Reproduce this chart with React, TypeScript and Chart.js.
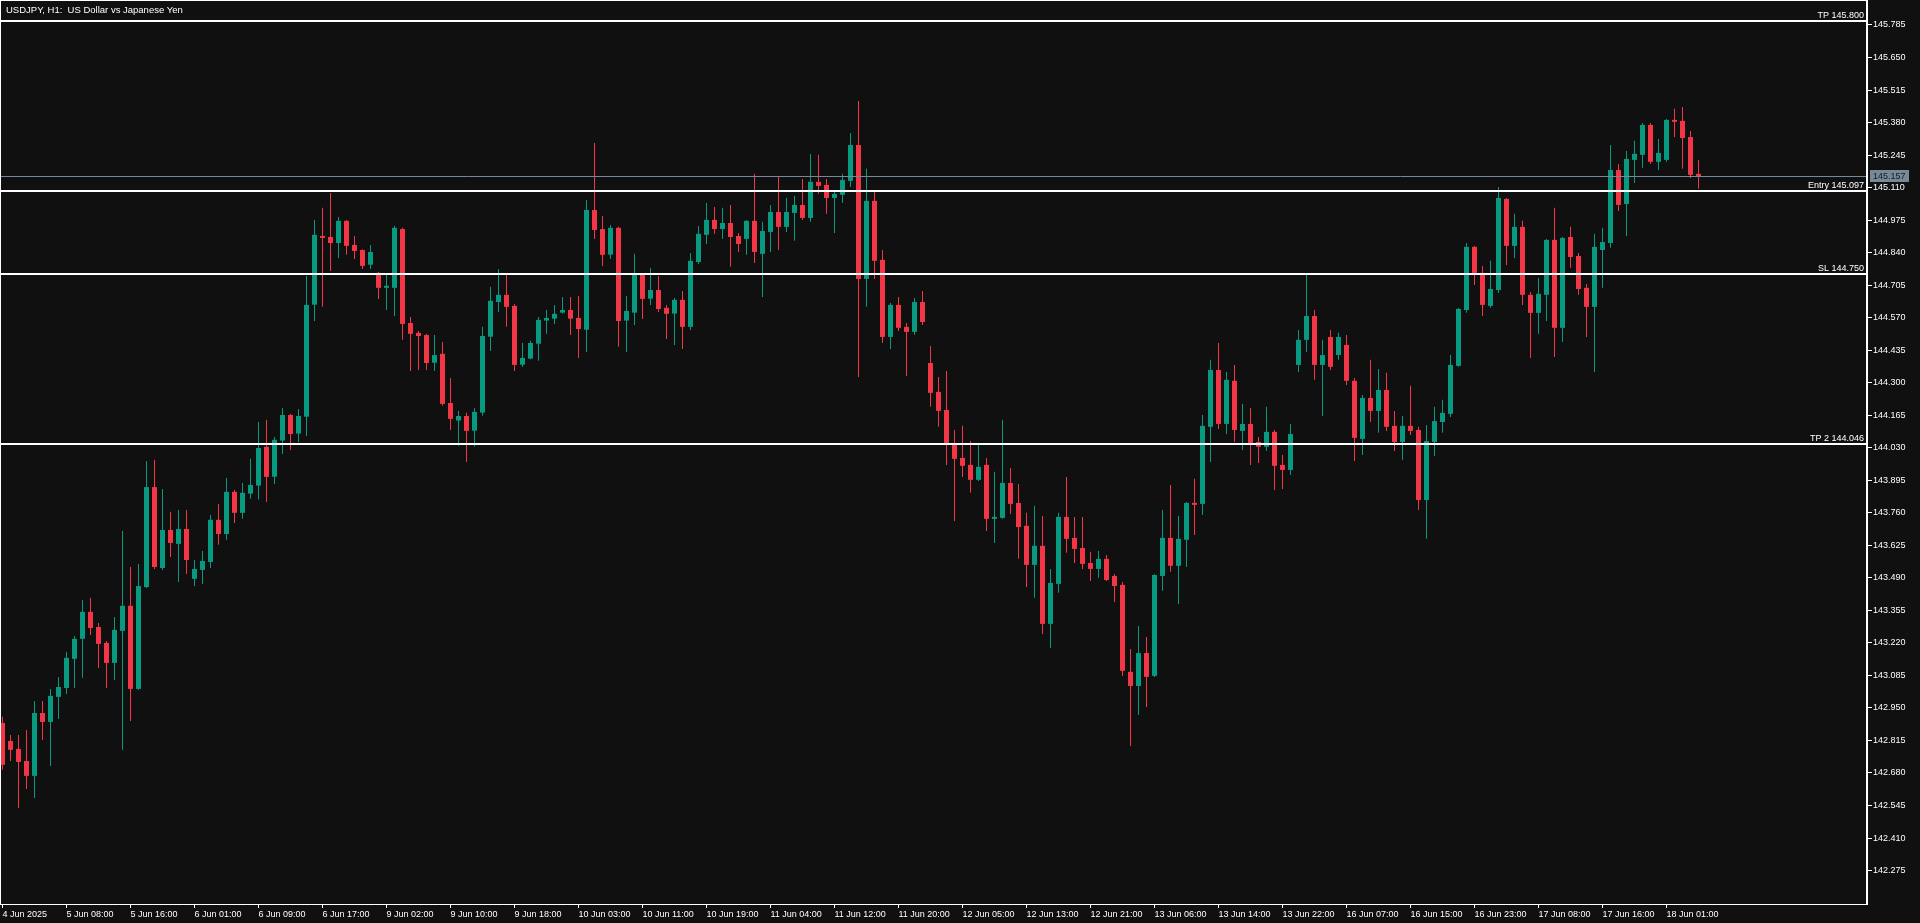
import React, { useEffect, useRef } from 'react';
import { Chart, registerables } from 'chart.js';

Chart.register(...registerables);

const opens = [
  142.888, 142.813, 142.780, 142.730, 142.668, 142.929, 142.892, 142.996, 143.033, 143.154,
  143.237, 143.349, 143.286, 143.220, 143.137, 143.270, 143.374, 143.029, 143.452, 143.867,
  143.531, 143.689, 143.631, 143.693, 143.486, 143.523, 143.556, 143.731, 143.672, 143.847,
  143.760, 143.840, 143.873, 144.034, 143.910, 144.060, 144.166, 144.089, 144.159, 144.624,
  144.909, 144.905, 144.880, 144.972, 144.872, 144.851, 144.790, 144.756, 144.694, 144.694,
  144.938, 144.548, 144.507, 144.498, 144.383, 144.420, 144.216, 144.143, 144.162, 144.101,
  144.176, 144.491, 144.635, 144.665, 144.619, 144.375, 144.400, 144.462, 144.558, 144.566,
  144.591, 144.602, 144.569, 144.520, 145.017, 144.938, 144.832, 144.943, 144.558, 144.591,
  144.752, 144.649, 144.685, 144.611, 144.587, 144.644, 144.532, 144.801, 144.914, 144.976,
  144.938, 144.963, 144.909, 144.897, 144.972, 144.835, 144.926, 145.009, 144.947, 145.005,
  145.038, 144.984, 145.134, 145.121, 145.067, 145.080, 145.138, 145.287, 144.731, 145.055,
  144.810, 144.490, 144.623, 144.532, 144.511, 144.635, 144.382, 144.262, 144.187, 144.050,
  143.988, 143.959, 143.897, 143.959, 143.735, 143.739, 143.884, 143.801, 143.706, 143.544,
  143.623, 143.299, 143.465, 143.743, 143.656, 143.614, 143.552, 143.527, 143.569, 143.498,
  143.461, 143.100, 143.041, 143.178, 143.083, 143.498, 143.656, 143.540, 143.648, 143.801,
  143.797, 144.117, 144.353, 144.129, 144.308, 144.100, 144.129, 144.054, 144.034, 144.096,
  143.959, 143.938, 144.374, 144.478, 144.577, 144.374, 144.490, 144.415, 144.457, 144.308,
  144.067, 144.237, 144.183, 144.270, 144.121, 144.054, 144.121, 144.104, 143.813, 144.054,
  144.137, 144.171, 144.370, 144.602, 144.864, 144.756, 144.619, 144.685, 145.063, 144.868,
  144.947, 144.665, 144.590, 144.665, 144.893, 144.528, 144.905, 144.826, 144.694, 144.615,
  144.851, 144.880, 145.183, 145.042, 145.225, 145.246, 145.370, 145.217, 145.225, 145.387,
  145.387, 145.320, 145.167,
];

const highs = [
  142.913, 142.838, 142.838, 142.859, 142.979, 142.979, 143.029, 143.079, 143.183, 143.249,
  143.398, 143.407, 143.303, 143.228, 143.328, 143.685, 143.535, 143.548, 143.975, 143.980,
  143.859, 143.764, 143.772, 143.772, 143.564, 143.602, 143.751, 143.797, 143.905, 143.855,
  143.884, 143.984, 144.137, 144.146, 144.075, 144.195, 144.170, 144.191, 144.743, 144.976,
  145.026, 145.088, 144.988, 144.975, 144.909, 144.853, 144.872, 144.760, 144.752, 144.951,
  144.943, 144.573, 144.515, 144.503, 144.498, 144.469, 144.320, 144.183, 144.175, 144.195,
  144.532, 144.698, 144.772, 144.748, 144.627, 144.465, 144.474, 144.573, 144.602, 144.623,
  144.656, 144.656, 144.660, 145.059, 145.295, 144.992, 144.955, 144.947, 144.660, 144.835,
  144.755, 144.777, 144.743, 144.623, 144.652, 144.681, 144.839, 144.951, 145.046, 145.030,
  145.026, 145.038, 144.922, 144.975, 145.167, 144.968, 145.038, 145.154, 145.067, 145.075,
  145.146, 145.250, 145.246, 145.146, 145.092, 145.167, 145.337, 145.470, 145.188, 145.092,
  144.851, 144.631, 144.656, 144.548, 144.652, 144.681, 144.453, 144.324, 144.349, 144.104,
  144.121, 144.058, 144.050, 143.988, 143.930, 144.146, 143.946, 143.880, 143.760, 143.789,
  143.747, 143.527, 143.760, 143.909, 143.743, 143.743, 143.598, 143.602, 143.585, 143.506,
  143.473, 143.195, 143.290, 143.245, 143.505, 143.772, 143.876, 143.747, 143.805, 143.901,
  144.166, 144.395, 144.465, 144.345, 144.374, 144.212, 144.195, 144.075, 144.200, 144.104,
  144.000, 144.129, 144.519, 144.748, 144.602, 144.478, 144.519, 144.507, 144.498, 144.320,
  144.249, 144.395, 144.357, 144.341, 144.183, 144.162, 144.287, 144.117, 144.125, 144.200,
  144.229, 144.415, 144.610, 144.880, 144.868, 144.785, 144.806, 145.113, 145.067, 145.001,
  144.972, 144.677, 144.735, 144.897, 145.026, 144.905, 144.947, 144.839, 144.710, 144.918,
  144.943, 145.287, 145.208, 145.262, 145.304, 145.378, 145.378, 145.312, 145.395, 145.437,
  145.445, 145.345, 145.225,
];

const lows = [
  142.693, 142.730, 142.535, 142.614, 142.576, 142.817, 142.709, 142.904, 143.008, 143.033,
  143.075, 143.253, 143.116, 143.033, 143.066, 142.776, 142.896, 143.025, 143.448, 143.527,
  143.523, 143.577, 143.473, 143.506, 143.456, 143.465, 143.531, 143.627, 143.648, 143.718,
  143.735, 143.818, 143.815, 143.805, 143.880, 144.004, 144.021, 144.054, 144.079, 144.556,
  144.615, 144.764, 144.818, 144.831, 144.814, 144.772, 144.772, 144.648, 144.602, 144.577,
  144.478, 144.349, 144.353, 144.353, 144.349, 144.204, 144.104, 144.038, 143.971, 144.035,
  144.163, 144.432, 144.594, 144.532, 144.349, 144.366, 144.397, 144.391, 144.503, 144.544,
  144.586, 144.498, 144.403, 144.428, 144.897, 144.785, 144.814, 144.449, 144.428, 144.540,
  144.565, 144.623, 144.594, 144.482, 144.457, 144.440, 144.519, 144.793, 144.876, 144.918,
  144.897, 144.781, 144.843, 144.831, 144.797, 144.656, 144.843, 144.851, 144.926, 144.889,
  144.976, 144.968, 145.084, 145.001, 144.922, 145.046, 145.113, 144.324, 144.615, 144.731,
  144.465, 144.440, 144.515, 144.328, 144.498, 144.540, 144.200, 144.117, 143.959, 143.726,
  143.909, 143.843, 143.892, 143.685, 143.635, 143.735, 143.755, 143.569, 143.452, 143.407,
  143.257, 143.199, 143.428, 143.594, 143.552, 143.527, 143.477, 143.490, 143.477, 143.390,
  143.083, 142.792, 142.921, 142.954, 143.079, 143.436, 143.515, 143.382, 143.535, 143.668,
  143.751, 143.971, 144.108, 144.087, 144.054, 144.021, 143.959, 143.967, 144.017, 143.855,
  143.859, 143.917, 144.345, 144.428, 144.312, 144.162, 144.353, 144.395, 144.291, 143.975,
  144.000, 144.137, 144.092, 144.100, 144.017, 143.980, 144.083, 143.772, 143.652, 143.996,
  144.092, 144.158, 144.366, 144.590, 144.706, 144.577, 144.611, 144.673, 144.789, 144.818,
  144.623, 144.403, 144.503, 144.556, 144.407, 144.469, 144.777, 144.665, 144.490, 144.345,
  144.694, 144.860, 145.013, 144.909, 145.129, 145.192, 145.208, 145.183, 145.217, 145.320,
  145.188, 145.150, 145.105,
];

const closes = [
  142.714, 142.776, 142.726, 142.668, 142.929, 142.892, 143.000, 143.037, 143.158, 143.237,
  143.349, 143.282, 143.216, 143.137, 143.274, 143.374, 143.029, 143.456, 143.867, 143.535,
  143.689, 143.635, 143.693, 143.564, 143.527, 143.560, 143.731, 143.672, 143.847, 143.760,
  143.843, 143.876, 144.029, 143.909, 144.063, 144.166, 144.087, 144.162, 144.623, 144.914,
  144.901, 144.880, 144.972, 144.868, 144.847, 144.785, 144.843, 144.694, 144.697, 144.943,
  144.544, 144.503, 144.494, 144.382, 144.415, 144.212, 144.150, 144.162, 144.100, 144.179,
  144.494, 144.640, 144.665, 144.615, 144.374, 144.403, 144.465, 144.561, 144.569, 144.586,
  144.602, 144.566, 144.523, 145.017, 144.934, 144.831, 144.943, 144.556, 144.598, 144.752,
  144.648, 144.685, 144.606, 144.586, 144.644, 144.532, 144.806, 144.918, 144.976, 144.938,
  144.963, 144.905, 144.876, 144.972, 144.843, 144.930, 145.009, 144.947, 145.009, 145.038,
  144.984, 145.134, 145.117, 145.067, 145.084, 145.142, 145.287, 144.731, 145.055, 144.806,
  144.490, 144.623, 144.528, 144.511, 144.635, 144.552, 144.258, 144.183, 144.050, 143.984,
  143.955, 143.897, 143.951, 143.735, 143.743, 143.884, 143.797, 143.701, 143.544, 143.623,
  143.299, 143.469, 143.743, 143.652, 143.610, 143.548, 143.527, 143.569, 143.481, 143.456,
  143.104, 143.041, 143.178, 143.079, 143.502, 143.656, 143.540, 143.652, 143.801, 143.793,
  144.121, 144.353, 144.129, 144.312, 144.104, 144.129, 144.050, 144.034, 144.096, 143.955,
  143.938, 144.087, 144.478, 144.577, 144.374, 144.415, 144.366, 144.490, 144.308, 144.071,
  144.237, 144.183, 144.270, 144.117, 144.054, 144.121, 144.100, 143.813, 144.058, 144.141,
  144.175, 144.374, 144.606, 144.864, 144.756, 144.623, 144.689, 145.067, 144.868, 144.947,
  144.665, 144.590, 144.669, 144.893, 144.528, 144.901, 144.822, 144.689, 144.615, 144.864,
  144.884, 145.183, 145.038, 145.229, 145.250, 145.370, 145.217, 145.254, 145.391, 145.383,
  145.316, 145.163, 145.157,
];

const xTickBars = [0, 8, 16, 24, 32, 40, 48, 56, 64, 72, 80, 88, 96, 104, 112, 120, 128, 136, 144, 152, 160, 168, 176, 184, 192, 200, 208];
const xTickLabels = [
  '4 Jun 2025', '5 Jun 08:00', '5 Jun 16:00', '6 Jun 01:00', '6 Jun 09:00', '6 Jun 17:00',
  '9 Jun 02:00', '9 Jun 10:00', '9 Jun 18:00', '10 Jun 03:00', '10 Jun 11:00', '10 Jun 19:00',
  '11 Jun 04:00', '11 Jun 12:00', '11 Jun 20:00', '12 Jun 05:00', '12 Jun 13:00', '12 Jun 21:00',
  '13 Jun 06:00', '13 Jun 14:00', '13 Jun 22:00', '16 Jun 07:00', '16 Jun 15:00', '16 Jun 23:00',
  '17 Jun 08:00', '17 Jun 16:00', '18 Jun 01:00',
];
const priceTicks = [
  145.785, 145.65, 145.515, 145.38, 145.245, 145.11, 144.975, 144.84, 144.705, 144.57,
  144.435, 144.3, 144.165, 144.03, 143.895, 143.76, 143.625, 143.49, 143.355, 143.22,
  143.085, 142.95, 142.815, 142.68, 142.545, 142.41, 142.275,
];
const levelNames = ['TP', 'Entry', 'SL', 'TP 2'];
const levelValues = [145.8, 145.097, 144.75, 144.046];
const currentPrice = 145.157;
const chartTitle = 'USDJPY, H1:  US Dollar vs Japanese Yen';

const BG = '#101010';
const UP = '#089981';
const DOWN = '#F23645';
const FONT = '"Liberation Sans", Arial, sans-serif';

export default function App() {
  const ref = useRef<HTMLCanvasElement | null>(null);

  useEffect(() => {
    document.body.style.margin = '0';
    document.body.style.background = BG;
    const canvas = ref.current;
    if (!canvas) return;
    const idx = opens.map((_, i) => i);
    const colors = opens.map((o, i) => (closes[i] >= o ? UP : DOWN));

    const overlay = {
      id: 'overlay',
      beforeDraw(chart: any) {
        const ctx = chart.ctx;
        ctx.save();
        ctx.fillStyle = BG;
        ctx.fillRect(0, 0, chart.width, chart.height);
        ctx.restore();
      },
      afterDatasetsDraw(chart: any) {
        const ctx = chart.ctx;
        const { left, right } = chart.chartArea;
        const y = chart.scales.y;
        ctx.save();
        const cy = Math.round(y.getPixelForValue(currentPrice)) + 0.5;
        ctx.strokeStyle = '#778899';
        ctx.lineWidth = 1;
        ctx.beginPath();
        ctx.moveTo(left, cy);
        ctx.lineTo(right, cy);
        ctx.stroke();
        ctx.font = '9px ' + FONT;
        ctx.textAlign = 'right';
        ctx.textBaseline = 'alphabetic';
        levelValues.forEach((v, i) => {
          const py = Math.round(y.getPixelForValue(v));
          ctx.fillStyle = '#ffffff';
          ctx.fillRect(left, py - 1, right - left, 2);
          ctx.fillText(levelNames[i] + ' ' + v.toFixed(3), right - 3, py - 3);
        });
        ctx.restore();
      },
      afterDraw(chart: any) {
        const ctx = chart.ctx;
        const { left, right, top, bottom } = chart.chartArea;
        const y = chart.scales.y;
        ctx.save();
        ctx.fillStyle = '#ffffff';
        ctx.fillRect(left - 1, top - 1, right - left + 2, 1);
        ctx.fillRect(left - 1, top - 1, 1, bottom - top + 2);
        ctx.fillRect(right - 1, top - 1, 2, bottom - top + 2);
        ctx.fillRect(left - 1, bottom, right - left + 2, 1);
        ctx.font = '9.5px ' + FONT;
        ctx.textAlign = 'left';
        ctx.textBaseline = 'middle';
        ctx.fillStyle = '#ffffff';
        ctx.fillText(chartTitle, 6, 10);
        const cy = Math.round(y.getPixelForValue(currentPrice));
        ctx.fillStyle = '#778899';
        ctx.fillRect(right + 3, cy - 6, 39, 12);
        ctx.fillStyle = '#141a20';
        ctx.font = '9px ' + FONT;
        ctx.textBaseline = 'middle';
        ctx.fillText(currentPrice.toFixed(3), right + 6, cy + 0.5);
        ctx.restore();
      },
    };

    const chart = new Chart(canvas, {
      type: 'bar',
      data: {
        datasets: [
          {
            label: 'body',
            data: idx.map((i) => ({ x: i, y: [opens[i], closes[i]] })),
            backgroundColor: colors,
            barThickness: 5,
            minBarLength: 2,
            grouped: false,
            order: 0,
            borderWidth: 0,
            inflateAmount: 0,
          },
          {
            label: 'wick',
            data: idx.map((i) => ({ x: i, y: [lows[i], highs[i]] })),
            backgroundColor: colors,
            barThickness: 1,
            minBarLength: 1,
            grouped: false,
            order: 1,
            borderWidth: 0,
            inflateAmount: 0,
          },
        ],
      } as any,
      options: {
        responsive: false,
        animation: false,
        devicePixelRatio: 1,
        events: [],
        layout: { padding: { left: 1, top: 1, right: 0, bottom: 0 } },
        plugins: { legend: { display: false }, tooltip: { enabled: false } },
        scales: {
          x: {
            type: 'linear',
            min: -0.1875,
            max: 233.0625,
            bounds: 'data',
            offset: false,
            afterBuildTicks: (s: any) => {
              s.ticks = xTickBars.map((v) => ({ value: v }));
            },
            afterFit: (s: any) => {
              s.height = 19;
              s.paddingLeft = 0;
              s.paddingRight = 0;
              s.paddingTop = 0;
              s.paddingBottom = 0;
            },
            grid: { display: true, drawOnChartArea: false, drawTicks: true, tickLength: 4, color: '#ffffff', offset: false },
            border: { display: false },
            ticks: {
              autoSkip: false,
              maxRotation: 0,
              minRotation: 0,
              align: 'start',
              padding: 1,
              color: '#ffffff',
              font: { family: FONT, size: 9 },
              callback: (_v: any, i: number) => xTickLabels[i],
            },
          },
          y: {
            type: 'linear',
            position: 'right',
            min: 142.1362,
            max: 145.8846,
            bounds: 'data',
            afterBuildTicks: (s: any) => {
              s.ticks = priceTicks.map((v) => ({ value: v }));
            },
            afterFit: (s: any) => {
              s.width = 53;
              s.paddingTop = 0;
              s.paddingBottom = 0;
              s.paddingLeft = 0;
              s.paddingRight = 0;
            },
            grid: { display: true, drawOnChartArea: false, drawTicks: true, tickLength: 5, color: '#ffffff' },
            border: { display: false },
            ticks: {
              autoSkip: false,
              padding: 1,
              color: '#ffffff',
              font: { family: FONT, size: 9 },
              callback: (v: any) => Number(v).toFixed(3),
            },
          },
        },
      } as any,
      plugins: [overlay],
    });
    return () => chart.destroy();
  }, []);

  return (
    <div style={{ position: 'absolute', left: 0, top: 0, width: 1920, height: 923, background: BG }}>
      <canvas ref={ref} width={1920} height={923} style={{ display: 'block', width: 1920, height: 923 }} />
    </div>
  );
}
